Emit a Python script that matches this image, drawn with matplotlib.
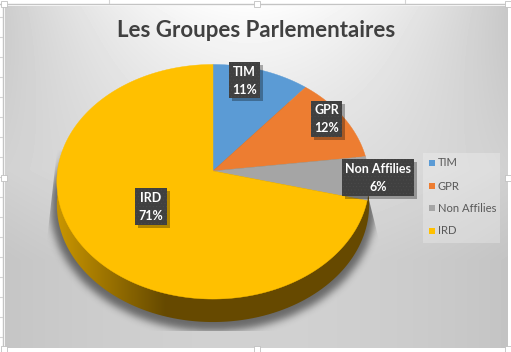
import numpy as np
import matplotlib
matplotlib.use('Agg')
import matplotlib.pyplot as plt
from matplotlib.patches import Rectangle, Polygon

categories = ['TIM', 'GPR', 'Non Affilies', 'IRD']
values = [11, 12, 6, 71]
colours = ['#5b9bd5', '#ed7d31', '#a5a5a5', '#ffc000']
title = 'Les Groupes Parlementaires'

# where the labels sit on the screenshot: left, top, right, bottom
label_boxes = [(229, 62, 260, 98), (311, 101, 342, 137), (342, 159, 414, 196), (135, 188, 167, 225)]
legend_rows = [163, 186, 208, 231]

# pie geometry in pixels
cx, cy = 213, 171
rx, ry = 155.5, 116.3
tilt = 0.0917
depth = 23

W, H = 511, 352


# perspective view of a point of the unit disc
def project(x, y):
    d = 1 + tilt * y
    return cx + rx * x / d, cy - ry * y / d


def rim(a0, a1, n=200):
    t = np.radians(np.linspace(a0, a1, n))
    return project(np.sin(t), np.cos(t))


def blur(img, size):
    k = np.exp(-np.linspace(-2.2, 2.2, size) ** 2)
    k = k / k.sum()
    img = np.apply_along_axis(lambda r: np.convolve(r, k, mode='same'), 0, img)
    img = np.apply_along_axis(lambda r: np.convolve(r, k, mode='same'), 1, img)
    return img


fig = plt.figure(figsize=(W / 100, H / 100), dpi=100, facecolor='white')
ax = fig.add_axes([0, 0, 1, 1])
ax.set_xlim(0, W)
ax.set_ylim(H, 0)
ax.axis('off')
plt.rcParams['font.family'] = ['Lato', 'DejaVu Sans']

# chart background
xx, yy = np.meshgrid(np.arange(W) + 0.5, np.arange(H) + 0.5)
base = 1 - 0.18 * np.clip(yy / 260, 0, 1) ** 0.8
amp = 0.05 + 0.15 * np.clip(1 - yy / 170, 0, 1)
grey = base - amp * (np.abs(xx - 250) / 250) ** 1.8
bg = ax.imshow(grey, cmap='gray', vmin=0, vmax=1, extent=(0, W, H, 0), aspect='auto', zorder=0)
bg.set_clip_path(Rectangle((5, 6), 503, 342, transform=ax.transData))

# shadow below the pie
ex, ey = rim(0, 360)
yc = (ey.max() + ey.min()) / 2
mask = (((xx - cx) / (rx + 7)) ** 2 + ((yy - yc - depth - 2) / (ry + 8)) ** 2 < 1).astype(float)
shadow = blur(mask, 25)
rgba = np.zeros((H, W, 4))
rgba[..., 3] = shadow * 0.5
sh = ax.imshow(rgba, extent=(0, W, H, 0), aspect='auto', zorder=1)
sh.set_clip_path(Polygon([(57, 150), (47, 240), (47, 331), (379, 331), (379, 240), (369, 200)],
                         transform=ax.transData))

# side of the pie
side_x = np.clip((xx - 60) / 105, 0, 1)
c0 = np.array([0.78, 0.58, 0.0])
c1 = np.array([0.40, 0.29, 0.0])
side = c0 + (c1 - c0) * side_x[..., None]
side_im = ax.imshow(side, extent=(0, W, H, 0), aspect='auto', zorder=2)
side_im.set_clip_path(Polygon(np.column_stack([ex, ey + depth]), transform=ax.transData))

# top of the pie
start = 0
for v, c in zip(values, colours):
    a1 = start + v * 3.6
    sx, sy = rim(start, a1)
    ax.fill(np.r_[cx, sx], np.r_[cy, sy], color=c, lw=0.3, zorder=3)
    start = a1

# data labels
plt.rcParams['hatch.linewidth'] = 0.3
for cat, v, (l, t, r_, b) in zip(categories, values, label_boxes):
    ax.add_patch(Rectangle((l + 2.5, t + 2.5), r_ - l, b - t, fc='black', alpha=0.3, lw=0, zorder=4))
    ax.add_patch(Rectangle((l, t), r_ - l, b - t, fc='#404040', ec='#4c4c4c', hatch='.....', lw=0, zorder=5))
    ax.text((l + r_) / 2, (t + b) / 2 + 0.5, '%s\n%d%%' % (cat, v), color='white', fontsize=9.0,
            fontweight='bold', ha='center', va='center', linespacing=1.6, zorder=6)

# legend
ax.add_patch(Rectangle((423, 153), 77, 90, fc='white', alpha=0.25, lw=0, zorder=4))
for cat, c, y in zip(categories, colours, legend_rows):
    ax.add_patch(Rectangle((429, y - 3), 6, 6, fc=c, lw=0, zorder=5))
    ax.text(438, y, cat, color='#595959', fontsize=8.1, ha='left', va='center', zorder=5)

ax.text(256, 30.5, title, color='#404040', fontsize=16.0, fontweight='bold', ha='center', va='center', zorder=5)

# excel selection frame, sheet gridlines and handles
ax.plot([0, W], [3.5, 3.5], color='#c4c4c4', lw=1, zorder=7)
ax.plot([2.5, 2.5], [3.5, 350], color='#c4c4c4', lw=1, zorder=7)
for gx in [109, 405]:
    ax.plot([gx, gx], [0, 3], color='#d4d4d4', lw=0.8, zorder=7)
for gy in np.arange(17, 350, 20):
    ax.plot([0, 2], [gy, gy], color='#d4d4d4', lw=0.8, zorder=7)
for hx, hy in [(4, 4), (257, 4), (508, 4), (4, 178), (508, 178), (4, 349), (257, 349), (508, 349)]:
    ax.add_patch(Rectangle((hx - 3, hy - 3), 6, 6, fc='white', ec='#c0c0c0', lw=0.6, zorder=8))

fig.savefig('out.png', dpi=100)
